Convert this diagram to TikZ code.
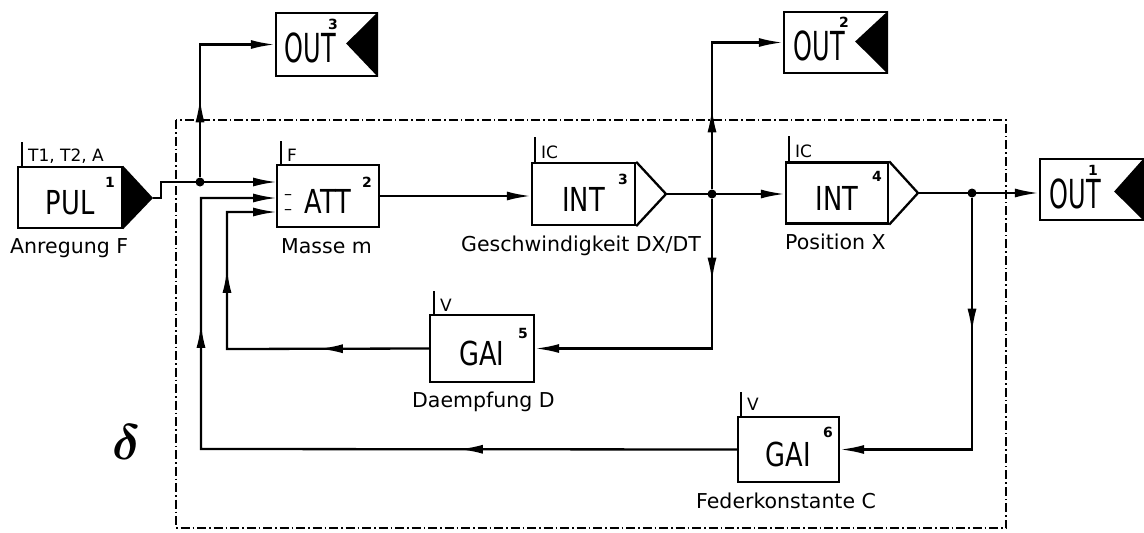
\documentclass[tikz,border=0pt]{standalone}
\usepackage{fontspec}
\setmainfont{DejaVu Sans}
\newfontfamily\boxfont{DejaVu Sans}[FakeStretch=0.78]
\newfontfamily\outfont{DejaVu Sans}[FakeStretch=0.6]
\usepackage{bm}
\usetikzlibrary{arrows.meta,decorations.markings,calc}
\tikzset{
  >={Latex[length=24pt,width=9pt]},
  wire/.style={line width=2.3pt},
  blk/.style={draw, line width=2.3pt, inner sep=0pt, minimum width=102pt, minimum height=62pt},
  boxtxt/.style={inner sep=0pt, font=\fontsize{33}{34}\boxfont, text height=34pt, text depth=0pt},
  outtxt/.style={inner sep=0pt, font=\fontsize{40}{41}\outfont},
  lbl/.style={inner sep=0pt, anchor=base west, font=\fontsize{20.5}{22}\selectfont},
  par/.style={inner sep=0pt, anchor=base west, font=\fontsize{17}{18}\selectfont},
  num/.style={inner sep=0pt, font=\fontsize{14}{15}\selectfont\bfseries},
  minus/.style={inner sep=0pt, font=\fontsize{16}{16}\selectfont, text height=3pt, text depth=0pt},
  dot/.style={circle, fill, inner sep=0pt, minimum size=9pt},
  midarr/.style={postaction={decorate, decoration={markings, mark=at position #1 with {\arrow{>}}}}},
  frame/.style={line width=1.4pt, dash pattern=on 9pt off 3pt on 1.5pt off 3pt}
}
\begin{document}
\begin{tikzpicture}[x=1pt,y=-1pt]
\useasboundingbox (0,0) rectangle (1144,533);

% frame
\draw[frame] (176,120) rectangle (1006,528);

% blocks
\node[blk, minimum width=104pt, minimum height=61pt] (pul) at (70,197.5) {};
\node[blk] (att) at (328,196) {};
\node[blk, minimum width=103pt] (int3) at (583.5,194) {};
\node[blk, minimum height=61pt] (int4) at (837,193) {};
\node[blk, minimum width=104pt, minimum height=67pt] (gai5) at (482,348.5) {};
\node[blk, minimum width=101pt, minimum height=65pt] (gai6) at (788.5,449.5) {};
\node[blk, minimum width=101pt, minimum height=63pt] (out3) at (326.5,44.5) {};
\node[blk, minimum width=103pt, minimum height=61pt] (out2) at (835.5,42.5) {};
\node[blk, minimum width=103pt, minimum height=61pt] (out1) at (1091.5,189.5) {};

% block texts
\node[boxtxt] (tpul) at (pul) {PUL};
\node[boxtxt] (tatt) at (att) {ATT};
\node[boxtxt] (tint3) at (int3) {INT};
\node[boxtxt] (tint4) at (int4) {INT};
\node[boxtxt] (tgai5) at (gai5) {GAI};
\node[boxtxt] (tgai6) at (gai6) {GAI};
\node[outtxt] (tout3) at ($(out3)+(-16,3.5)$) {OUT};
\node[outtxt] (tout2) at ($(out2)+(-16,3.5)$) {OUT};
\node[outtxt] (tout1) at ($(out1)+(-16,4)$) {OUT};

% triangles
\fill (pul.north east) -- (153,198) coordinate (pulo) -- (pul.south east) -- cycle;
\draw[line width=2.3pt] (int3.north east) -- (666,194) coordinate (int3o) -- (int3.south east);
\draw[line width=2.3pt] (int4.north east) -- (918,193) coordinate (int4o) -- (int4.south east);
\fill (out3.north east) -- ($(out3.east)+(-32,-1)$) -- (out3.south east) -- cycle;
\fill (out2.north east) -- ($(out2.east)+(-33,-1)$) -- (out2.south east) -- cycle;
\fill (out1.north east) -- ($(out1.east)+(-30,2)$) -- (out1.south east) -- cycle;

% numbers
\node[num] (n1) at (110,182) {1};
\node[num] (n2) at (367,182) {2};
\node[num] (n3) at (623,179) {3};
\node[num] (n4) at (877,176) {4};
\node[num] (n5) at (523,333) {5};
\node[num] (n6) at (828,432) {6};
\node[num] (no3) at (333,24) {3};
\node[num] (no2) at (844,22) {2};
\node[num] (no1) at (1093,170) {1};

% parameter ticks
\draw[line width=1.8pt] (pul.north west) ++(5,0) coordinate (tk1) -- ++(0,-24);
\node[par] (p1) at (28,161) {T1, T2, A};
\draw[line width=1.8pt] (att.north west) ++(5,0) coordinate (tk2) -- ++(0,-23);
\node[par] (p2) at (287,161) {F};
\draw[line width=1.8pt] (int3.north west) ++(4,0) coordinate (tk3) -- ++(0,-25);
\node[par] (p3) at (541,158) {IC};
\draw[line width=1.8pt] (int4.north west) ++(4,0) coordinate (tk4) -- ++(0,-25);
\node[par] (p4) at (795,157) {IC};
\draw[line width=1.8pt] (gai5.north west) ++(5,0) coordinate (tk5) -- ++(0,-23);
\node[par] (p5) at (440,311) {V};
\draw[line width=1.8pt] (gai6.north west) ++(4,0) coordinate (tk6) -- ++(0,-24);
\node[par] (p6) at (747,410) {V};

% labels
\node[lbl] (l1) at (10,253) {Anregung F};
\node[lbl] (l2) at (281,253) {Masse m};
\node[lbl] (l3) at (461,251) {Geschwindigkeit DX/DT};
\node[lbl] (l4) at (785,249) {Position X};
\node[lbl] (l5) at (412,407) {Daempfung D};
\node[lbl] (l6) at (696,508) {Federkonstante C};

% minus signs at ATT inputs
\node[minus] (m1) at (288,198) {–};
\node[minus] (m2) at (288,213) {–};

% junctions and corner coordinates
\node[dot] (j1) at (200,182) {};
\node[dot] (j2) at (712,194) {};
\node[dot] (j3) at (972,193) {};
\coordinate (a1) at (277,182);
\coordinate (a2) at (277,198);
\coordinate (a3) at (277,212);
\coordinate (k1) at (161,198);
\coordinate (c5) at (227,349);
\coordinate (c6) at (201,449);

% connectors
\draw[wire,->] (pulo) -- (k1) |- (a1);
\draw[wire,->,midarr=79pt] (j1) |- (out3.west);
\draw[wire,->] (att.east) -- (att.east -| int3.west);
\draw[wire,->] (int3o) -- (int3o -| int4.west);
\draw[wire,->,midarr=81pt] (j2) |- (out2.west);
\draw[wire,->,midarr=83pt] (j2) |- (gai5.east);
\draw[wire,->,midarr=110pt,midarr=282pt] (gai5.west) -- (c5) |- (a3);
\draw[wire,->] (int4o) -- (int4o -| out1.west);
\draw[wire,->,midarr=135pt] (j3) |- (gai6.east);
\draw[wire,->,midarr=278pt,midarr=661pt] (gai6.west) -- (c6) |- (a2);

% delta
\node (delta) at (127,442) {\scalebox{5}{$\bm{\delta}$}};
\end{tikzpicture}
\end{document}
